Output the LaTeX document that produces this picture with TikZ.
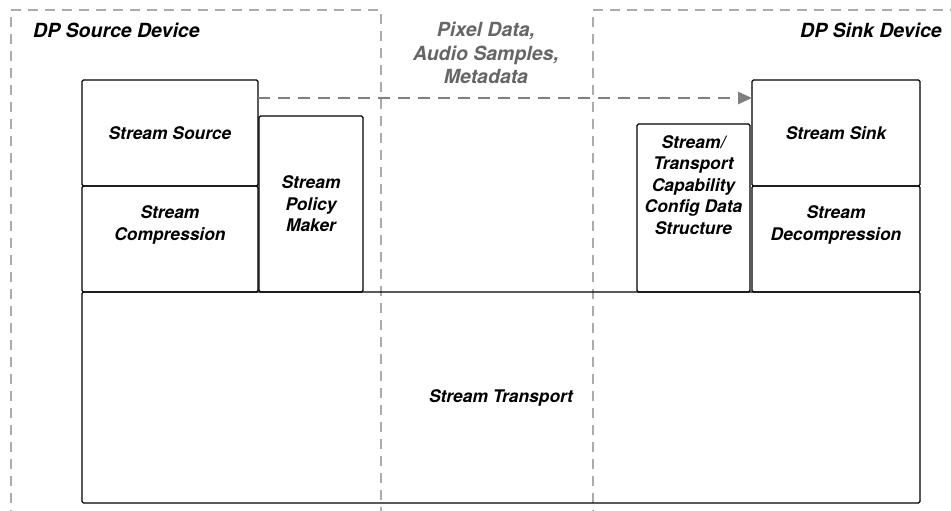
\documentclass[tikz,border=0pt]{standalone}
\usepackage{fontspec}
\setsansfont{TeX Gyre Heros}
\usepackage{tikz}
\usetikzlibrary{arrows.meta,positioning}
\definecolor{devgray}{HTML}{ABABAB}
\definecolor{flowgray}{HTML}{7F7F7F}
\definecolor{textgray}{HTML}{666666}

\begin{document}
\begin{tikzpicture}[
    x=1pt, y=-1pt,
    node distance=0pt,
    every node/.style={font=\sffamily\bfseries\itshape\fontsize{17.4}{21.5}\selectfont, inner sep=0pt},
    big/.style={font=\sffamily\bfseries\itshape\fontsize{19.5}{23.5}\selectfont},
    blk/.style={draw, line width=1.3pt, rounded corners=1.5pt, outer sep=0pt, align=center, anchor=north west},
    dev/.style={draw=devgray, line width=1.3pt, dash pattern=on 10pt off 7pt},
    flow/.style={draw=flowgray, line width=2.5pt, dash pattern=on 12pt off 8pt, -{Triangle[length=14pt,width=12pt]}}
]
\clip (0,0) rectangle (951,511);
% device outlines
\draw[dev] (11,520) -- (11,10) -- (381,10) -- (381,520);
\draw[dev] (593,520) -- (593,10) -- (960,10);
\node[big, anchor=west] (srcdev) at (33,30) {DP Source Device};
\node[big, anchor=east] (snkdev) at (942,30) {DP Sink Device};
% source side
\node[blk, minimum width=176pt, minimum height=106pt] (src) at (82,80) {Stream Source};
\node[blk, minimum width=176pt, minimum height=106pt, text depth=32pt, below=of src] (cmp) {Stream\\Compression};
\node[blk, minimum width=104pt, minimum height=176pt, anchor=south west] (pol) at ([xshift=1pt]cmp.south east) {Stream\\Policy\\Maker};
% sink side
\node[blk, minimum width=168pt, minimum height=106pt] (snk) at (752,80) {Stream Sink};
\node[blk, minimum width=168pt, minimum height=106pt, text depth=32pt, below=of snk] (dec) {Stream\\Decompression};
\node[blk, minimum width=113pt, minimum height=168pt, text depth=46pt, anchor=south east] (cap) at ([xshift=-2pt]dec.south west) {Stream/\\Transport\\Capability\\Config Data\\Structure};
% transport
\node[blk, minimum width=838pt, minimum height=211pt] (tra) at (cmp.south west) {Stream Transport};
% payload
\node[big, text=textgray, align=center] (payload) at (486,53) {Pixel Data,\\Audio Samples,\\Metadata};
\draw[flow] ([yshift=-18pt]src.north east) -- ([yshift=-18pt]snk.north west);
\end{tikzpicture}
\end{document}
